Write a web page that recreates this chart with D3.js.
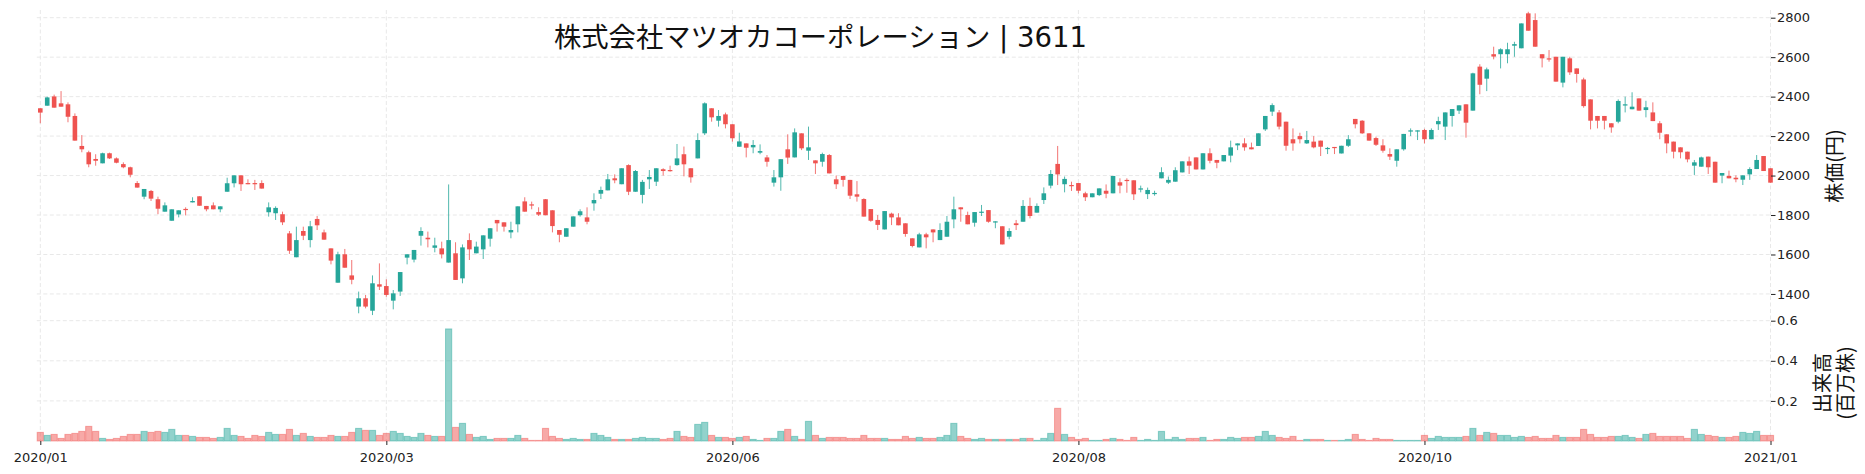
<!DOCTYPE html>
<html><head><meta charset="utf-8">
<script src="https://cdn.jsdelivr.net/npm/d3@7"></script>
<style>body{margin:0;background:#fff}svg{display:block}</style>
</head><body>
<svg id="chart" width="1865" height="474"></svg>
<script>
const opens=[2341,2354,2401,2366,2361,2302,2150,2118,2084,2062,2113,2087,2058,2042,1962,1893,1922,1880,1817,1771,1803,1831,1864,1895,1846,1849,1829,1918,1961,2001,1962,1962,1962,1814,1809,1804,1707,1586,1719,1673,1780,1712,1631,1457,1601,1494,1336,1378,1315,1449,1440,1366,1412,1584,1574,1695,1685,1634,1631,1559,1606,1479,1673,1606,1626,1680,1775,1763,1712,1753,1869,1854,1815,1880,1824,1724,1690,1741,1799,1788,1859,1908,1925,1986,1956,2053,1918,1902,1981,1969,2032,2028,2053,2108,2037,2087,2214,2341,2278,2310,2260,2146,2163,2143,2116,2092,1964,1991,2133,2092,2214,2126,2077,2070,2104,1981,1998,1978,1905,1881,1830,1775,1727,1807,1788,1758,1682,1636,1702,1727,1673,1690,1778,1839,1800,1761,1814,1825,1763,1743,1690,1758,1766,1846,1812,1876,1949,2059,1956,1952,1962,1910,1890,1901,1923,1910,1966,1978,1976,1932,1906,1906,1986,1964,1969,2016,2072,2092,2031,2113,2079,2072,2101,2153,2163,2143,2150,2234,2324,2320,2273,2184,2200,2163,2172,2177,2135,2145,2112,2151,2287,2278,2214,2190,2153,2109,2075,2133,2224,2226,2231,2184,2260,2248,2302,2329,2361,2329,2552,2491,2615,2615,2615,2658,2645,2822,2788,2615,2594,2602,2471,2594,2543,2487,2386,2302,2302,2265,2273,2356,2336,2391,2332,2320,2265,2209,2172,2143,2121,2050,2045,2096,2070,2000,1998,1989,1979,2006,2033,2099,2037];
const highs=[2341,2400,2410,2428,2371,2315,2205,2126,2108,2116,2116,2092,2067,2045,1972,1932,1927,1893,1864,1829,1824,1839,1890,1895,1846,1864,1844,1989,2001,2001,1981,1978,1976,1864,1844,1817,1719,1741,1741,1770,1795,1726,1631,1614,1628,1572,1412,1395,1494,1555,1474,1420,1511,1601,1623,1738,1716,1685,1665,1955,1662,1651,1707,1665,1697,1733,1775,1763,1766,1844,1890,1868,1839,1881,1824,1724,1733,1793,1829,1839,1910,1944,2008,2006,2037,2057,2028,1978,2028,2037,2037,2050,2160,2147,2037,2214,2371,2341,2332,2319,2260,2217,2163,2180,2158,2104,2028,2083,2209,2239,2214,2248,2077,2116,2109,2000,1998,1978,1972,1885,1830,1800,1820,1812,1809,1758,1682,1710,1710,1727,1758,1795,1893,1839,1817,1815,1851,1825,1768,1743,1733,1775,1876,1888,1859,1940,2028,2150,1995,1969,1962,1918,1910,1935,1955,1998,1986,1986,1976,1949,1939,1923,2042,1995,2042,2072,2096,2092,2113,2138,2079,2104,2177,2163,2189,2167,2214,2302,2366,2332,2273,2239,2217,2226,2200,2177,2145,2145,2151,2205,2287,2281,2214,2197,2184,2138,2133,2211,2239,2229,2237,2239,2298,2320,2337,2356,2361,2521,2564,2547,2653,2645,2673,2678,2771,2830,2822,2615,2636,2602,2602,2602,2543,2496,2386,2302,2302,2265,2386,2400,2422,2391,2379,2371,2276,2209,2172,2143,2121,2079,2096,2096,2070,2013,2025,2001,2001,2042,2104,2099,2037];
const lows=[2265,2354,2344,2349,2270,2177,2118,2042,2050,2062,2084,2062,2037,1991,1939,1880,1871,1804,1817,1771,1788,1798,1864,1847,1819,1829,1814,1918,1940,1922,1956,1927,1934,1792,1775,1749,1603,1586,1673,1636,1724,1675,1550,1457,1533,1449,1302,1327,1293,1420,1386,1322,1390,1550,1560,1645,1636,1611,1580,1559,1471,1454,1572,1606,1577,1640,1716,1716,1682,1712,1817,1829,1795,1799,1712,1662,1690,1741,1792,1753,1822,1881,1925,1961,1956,1901,1918,1859,1932,1947,2000,2020,2050,1996,1964,2087,2205,2273,2248,2239,2172,2146,2092,2113,2108,2045,1944,1923,2059,2092,2129,2079,2008,2045,2011,1932,1944,1881,1868,1792,1766,1724,1727,1749,1748,1690,1636,1636,1631,1662,1673,1690,1733,1766,1753,1741,1795,1761,1733,1651,1677,1724,1766,1783,1812,1856,1935,1952,1915,1922,1910,1871,1890,1896,1885,1910,1910,1913,1876,1915,1881,1898,1986,1957,1969,2016,2008,2031,2031,2062,2037,2072,2067,2129,2126,2133,2150,2226,2302,2234,2126,2126,2163,2160,2138,2099,2109,2109,2112,2145,2239,2211,2177,2150,2116,2079,2045,2126,2200,2180,2163,2184,2231,2180,2248,2312,2192,2329,2412,2428,2589,2543,2569,2602,2645,2734,2653,2548,2577,2476,2447,2510,2471,2344,2234,2239,2234,2217,2265,2320,2336,2329,2295,2276,2184,2113,2087,2087,2067,2003,2045,2008,1964,1961,1986,1966,1952,1978,2033,2023,1964];
const closes=[2319,2396,2344,2349,2298,2177,2133,2057,2075,2113,2087,2065,2042,2004,1939,1932,1883,1832,1849,1829,1824,1827,1871,1847,1829,1829,1844,1961,2001,1956,1956,1959,1934,1839,1836,1763,1619,1673,1695,1743,1748,1675,1569,1601,1533,1472,1378,1336,1454,1437,1395,1403,1511,1601,1623,1719,1677,1646,1601,1673,1471,1636,1626,1640,1697,1733,1758,1741,1724,1844,1817,1849,1802,1799,1744,1700,1733,1793,1819,1766,1876,1927,1981,1976,2037,1918,2023,1968,1993,2037,2023,2025,2087,2057,1991,2180,2366,2295,2302,2260,2189,2173,2141,2155,2124,2070,1991,2083,2091,2219,2138,2143,2062,2109,2011,1956,1978,1898,1893,1792,1771,1750,1820,1788,1748,1704,1643,1702,1687,1712,1724,1766,1829,1829,1753,1815,1817,1766,1768,1651,1719,1749,1846,1795,1846,1910,2008,2006,1983,1949,1923,1890,1910,1935,1908,1998,1949,1974,1905,1935,1927,1912,2017,1978,2027,2072,2050,2031,2113,2075,2065,2104,2143,2163,2143,2133,2214,2302,2357,2248,2151,2163,2184,2180,2143,2146,2140,2143,2151,2184,2260,2214,2177,2156,2126,2096,2133,2211,2229,2229,2184,2231,2276,2320,2337,2356,2268,2518,2460,2538,2603,2640,2640,2666,2771,2734,2653,2594,2591,2476,2602,2523,2515,2352,2278,2278,2278,2244,2378,2361,2349,2329,2346,2276,2217,2163,2121,2118,2082,2067,2092,2042,1964,2013,1986,1981,2001,2033,2079,2023,1964];
const volumes=[0.043,0.028,0.033,0.013,0.033,0.038,0.048,0.073,0.048,0.013,0.008,0.013,0.023,0.033,0.033,0.048,0.043,0.048,0.043,0.058,0.028,0.028,0.023,0.018,0.018,0.013,0.018,0.063,0.028,0.023,0.013,0.028,0.023,0.043,0.033,0.033,0.058,0.028,0.038,0.023,0.018,0.018,0.028,0.023,0.023,0.043,0.063,0.053,0.053,0.028,0.038,0.048,0.038,0.023,0.018,0.038,0.028,0.023,0.023,0.559,0.068,0.088,0.033,0.018,0.023,0.008,0.013,0.013,0.013,0.028,0.013,0.003,0.003,0.063,0.023,0.013,0.008,0.013,0.008,0.008,0.038,0.028,0.018,0.008,0.008,0.008,0.013,0.018,0.013,0.013,0.008,0.013,0.048,0.023,0.018,0.083,0.093,0.028,0.018,0.018,0.013,0.018,0.023,0.008,0.003,0.013,0.013,0.048,0.058,0.023,0.008,0.098,0.028,0.013,0.018,0.018,0.018,0.013,0.013,0.028,0.013,0.013,0.013,0.008,0.008,0.023,0.013,0.018,0.013,0.013,0.018,0.028,0.088,0.023,0.013,0.008,0.013,0.008,0.008,0.008,0.008,0.008,0.013,0.013,0.003,0.013,0.038,0.163,0.033,0.018,0.008,0.013,0.003,0.003,0.008,0.013,0.008,0.003,0.018,0.003,0.008,0.003,0.048,0.008,0.018,0.008,0.013,0.013,0.018,0.003,0.008,0.008,0.018,0.013,0.018,0.018,0.023,0.048,0.028,0.018,0.013,0.023,0.003,0.008,0.008,0.008,0.003,0.003,0.003,0.008,0.033,0.008,0.003,0.013,0.008,0.008,0.003,0.003,0.003,0.003,0.028,0.013,0.023,0.018,0.018,0.018,0.023,0.063,0.028,0.043,0.038,0.028,0.028,0.018,0.023,0.018,0.023,0.013,0.013,0.028,0.018,0.018,0.018,0.058,0.033,0.018,0.018,0.023,0.023,0.028,0.018,0.013,0.033,0.038,0.023,0.023,0.023,0.023,0.013,0.058,0.033,0.028,0.023,0.018,0.018,0.023,0.043,0.038,0.048,0.028,0.028];
const xTickIndex=[0,50,100,150,200,250];
const xTickLabels=["2020/01","2020/03","2020/06","2020/08","2020/10","2021/01"];
const priceTicks=[1400,1600,1800,2000,2200,2400,2600,2800];
const volumeTicks=[0.2,0.4,0.6];
const titleName="株式会社マツオカコーポレーション";
const titleCode=" | 3611";
const priceLabel="株価(円)";
const volumeLabelLines=["出来高","(百万株)"];

(function(){
const UP="#26a69a", DOWN="#ef5350";
const svg=d3.select("#chart");
const pLeft=36.8, pRight=1771, pTop=10, priceBottom=320, volBottom=441;
const n=opens.length;
const x=d3.scaleLinear().domain([0,n-1]).range([40.3,1770.5]);
const yP=d3.scaleLinear().domain([1268,2839]).range([priceBottom,pTop]);
const yV=d3.scaleLinear().domain([0,0.6035]).range([volBottom,priceBottom]);
const data=d3.range(n).map(i=>({i,o:opens[i],h:highs[i],l:lows[i],c:closes[i],v:volumes[i],up:closes[i]>=opens[i]}));

const grid=svg.append("g").attr("stroke","#e8e8e8").attr("stroke-width",1).attr("stroke-dasharray","4,2.5");
priceTicks.forEach(t=>grid.append("line").attr("x1",pLeft).attr("x2",pRight).attr("y1",yP(t)).attr("y2",yP(t)));
volumeTicks.forEach(t=>grid.append("line").attr("x1",pLeft).attr("x2",pRight).attr("y1",yV(t)).attr("y2",yV(t)));
xTickIndex.forEach(t=>grid.append("line").attr("x1",x(t)).attr("x2",x(t)).attr("y1",pTop).attr("y2",volBottom));

const bw=6.2;
svg.append("g").selectAll("rect").data(data).join("rect")
  .attr("x",d=>x(d.i)-bw/2).attr("width",bw)
  .attr("y",d=>yV(d.v)).attr("height",d=>Math.max(0.5,yV(0)-yV(d.v)))
  .attr("fill",d=>d.up?UP:DOWN).attr("fill-opacity",0.5)
  .attr("stroke",d=>d.up?UP:DOWN).attr("stroke-opacity",0.45).attr("stroke-width",1);

const cg=svg.append("g");
cg.selectAll("line").data(data).join("line")
  .attr("x1",d=>x(d.i)).attr("x2",d=>x(d.i)).attr("y1",d=>yP(d.h)).attr("y2",d=>yP(d.l))
  .attr("stroke",d=>d.up?UP:DOWN).attr("stroke-opacity",0.8).attr("stroke-width",1);
const cw=4.6;
cg.selectAll("rect").data(data).join("rect")
  .attr("x",d=>x(d.i)-cw/2).attr("width",cw)
  .attr("y",d=>yP(Math.max(d.o,d.c))).attr("height",d=>Math.max(1.2,Math.abs(yP(d.o)-yP(d.c))))
  .attr("fill",d=>d.up?UP:DOWN);

const font="'DejaVu Sans', sans-serif";
const pa=svg.append("g").attr("transform",`translate(${pRight},0)`)
  .call(d3.axisRight(yP).tickValues(priceTicks).tickSize(4.5).tickPadding(1.5).tickFormat(d3.format("d")));
const va=svg.append("g").attr("transform",`translate(${pRight},0)`)
  .call(d3.axisRight(yV).tickValues(volumeTicks).tickSize(4.5).tickPadding(1.5).tickFormat(d3.format(".1f")));
const xa=svg.append("g").attr("transform",`translate(0,${volBottom})`)
  .call(d3.axisBottom(x).tickValues(xTickIndex).tickSize(4).tickPadding(7.5).tickFormat((d,k)=>xTickLabels[k]));
[pa,va,xa].forEach(a=>{a.select(".domain").remove();a.selectAll("text").attr("font-family",font).attr("font-size",13).attr("fill","#222");a.selectAll(".tick line").attr("stroke","#222");});

const title=svg.append("text").attr("x",554).attr("y",47).attr("fill","#111");
title.append("tspan").attr("font-family","'Noto Sans CJK JP', sans-serif").attr("font-size",27.3).text(titleName);
title.append("tspan").attr("font-family","'DejaVu Sans', sans-serif").attr("font-size",27.5).style("white-space","pre").attr("xml:space","preserve").text(titleCode);
svg.append("text").attr("transform","translate(1833,166) rotate(-90)").attr("text-anchor","middle").attr("dominant-baseline","central")
  .attr("font-family","'Noto Sans CJK JP', sans-serif").attr("font-size",20).attr("fill","#111").text(priceLabel);
volumeLabelLines.forEach((s,k)=>svg.append("text").attr("transform",`translate(${1821+k*23},383) rotate(-90)`).attr("text-anchor","middle").attr("dominant-baseline","central")
  .attr("font-family","'Noto Sans CJK JP', sans-serif").attr("font-size",20).attr("fill","#111").text(s));
})();
</script>
</body></html>
